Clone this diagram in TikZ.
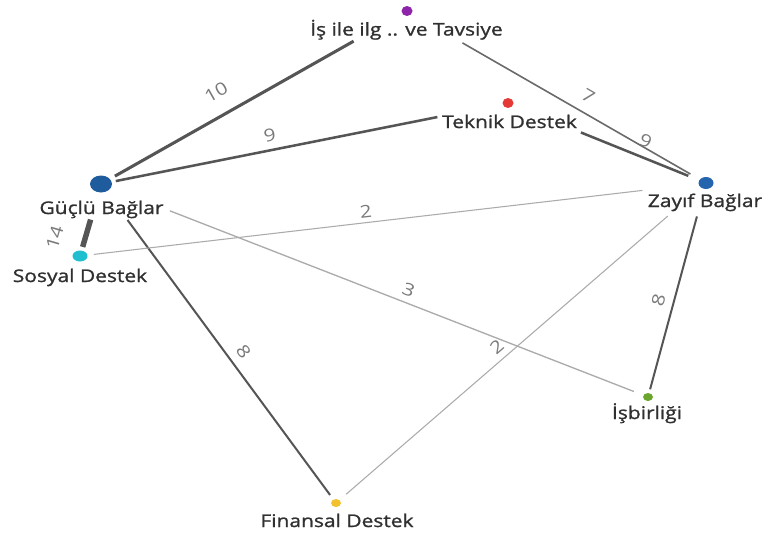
\documentclass[tikz,border=0pt]{standalone}
\usepackage{fontspec}
\setmainfont{Open Sans}[FakeStretch=1.2]
\newfontfamily\groupfont{Open Sans}[FakeStretch=1.2,FakeBold=1.2]
\usetikzlibrary{shapes.geometric}
\definecolor{gbblue}{HTML}{1F5C9E}
\definecolor{zbblue}{HTML}{2565AE}
\definecolor{sdcyan}{HTML}{20BFD0}
\definecolor{ispurple}{HTML}{8E24AA}
\definecolor{tkred}{HTML}{E53935}
\definecolor{ibgreen}{HTML}{6AA62E}
\definecolor{fdyellow}{HTML}{F2C12E}
\definecolor{nametext}{HTML}{303030}
\definecolor{wtext}{HTML}{7A7A7A}
\definecolor{edgedark}{HTML}{555555}
\definecolor{edgemid}{HTML}{6A6A6A}
\definecolor{edgelight}{HTML}{ABABAB}
\tikzset{
  groupdot/.style n args={3}{ellipse,inner sep=0pt,minimum width=#1,minimum height=#2,fill=#3},
  grouplabel/.style={inner sep=0pt,anchor=base,text=nametext,font=\groupfont\fontsize{13.1}{15}\selectfont},
  weightlabel/.style={sloped,inner sep=0pt,text=wtext,font=\fontsize{13}{15}\selectfont},
  heavylink/.style={draw=edgedark,line width=#1},
  midlink/.style={draw=edgemid,line width=#1},
  lightlink/.style={draw=edgelight,line width=#1},
}
\begin{document}
\begin{tikzpicture}[x=0.75pt,y=-0.75pt]
\useasboundingbox (0,0) rectangle (763,536);

% group markers
\node[groupdot={16.5pt}{12.75pt}{gbblue}]  (gb) at (101,184) {};
\node[groupdot={11.25pt}{8.25pt}{sdcyan}]  (sd) at (80,256) {};
\node[groupdot={8.25pt}{7.5pt}{ispurple}]  (is) at (407,11) {};
\node[groupdot={8.25pt}{7.5pt}{tkred}]     (tk) at (508,103) {};
\node[groupdot={11.25pt}{9pt}{zbblue}]     (zb) at (706,183) {};
\node[groupdot={7.5pt}{6pt}{ibgreen}]      (ib) at (648,397) {};
\node[groupdot={7.5pt}{6pt}{fdyellow}]     (fd) at (336,503) {};

% group names
\node[grouplabel] (gbl) at (101.5,214) {Güçlü Bağlar};
\node[grouplabel] (sdl) at (80,282) {Sosyal Destek};
\node[grouplabel] (isl) at (406.5,35.5) {İş ile ilg .. ve Tavsiye};
\node[grouplabel] (tkl) at (509.5,128) {Teknik Destek};
\node[grouplabel] (zbl) at (705,207) {Zayıf Bağlar};
\node[grouplabel] (ibl) at (647,419) {İşbirliği};
\node[grouplabel] (fdl) at (337,527) {Finansal Destek};

% weighted links
\draw[heavylink=2.3pt, shorten <=12pt, shorten >=46pt]
  (gb.center) -- node[weightlabel,pos=0.414,above=11.6pt]{10} (is.center);
\draw[heavylink=1.9pt, shorten <=11.3pt, shorten >=54pt]
  (gb.center) -- node[weightlabel,pos=0.4215,above=5.1pt]{9} (tk.center);
\draw[lightlink=1pt, shorten <=55.5pt, shorten >=11.3pt]
  (gb.center) -- node[weightlabel,pos=0.554,above=4.2pt]{3} (ib.center);
\draw[heavylink=1.5pt, shorten <=33.5pt, shorten >=7.5pt]
  (gb.center) -- node[weightlabel,pos=0.553,above=6.2pt]{8} (fd.center);
\draw[heavylink=4.1pt, shorten <=27.8pt, shorten >=7.1pt]
  (gb.center) -- node[weightlabel,pos=0.855,above=15.5pt]{14} (sd.center);
\draw[lightlink=0.8pt, shorten <=10.5pt, shorten >=48pt]
  (sd.center) -- node[weightlabel,pos=0.4587,above=2.8pt]{2} (zb.center);
\draw[midlink=1.2pt, shorten <=48pt, shorten >=13.5pt]
  (is.center) -- node[weightlabel,pos=0.579,above=7.1pt]{7} (zb.center);
\draw[heavylink=1.9pt, shorten <=59pt, shorten >=14.3pt]
  (tk.center) -- node[weightlabel,pos=0.665,above=6.2pt]{9} (zb.center);
\draw[heavylink=1.5pt, shorten <=26pt, shorten >=6pt]
  (zb.center) -- node[weightlabel,pos=0.566,above=6pt]{8} (ib.center);
\draw[lightlink=0.8pt, shorten <=38pt, shorten >=10pt]
  (zb.center) -- node[weightlabel,pos=0.5425,above=4.8pt]{2} (fd.center);
\end{tikzpicture}
\end{document}
